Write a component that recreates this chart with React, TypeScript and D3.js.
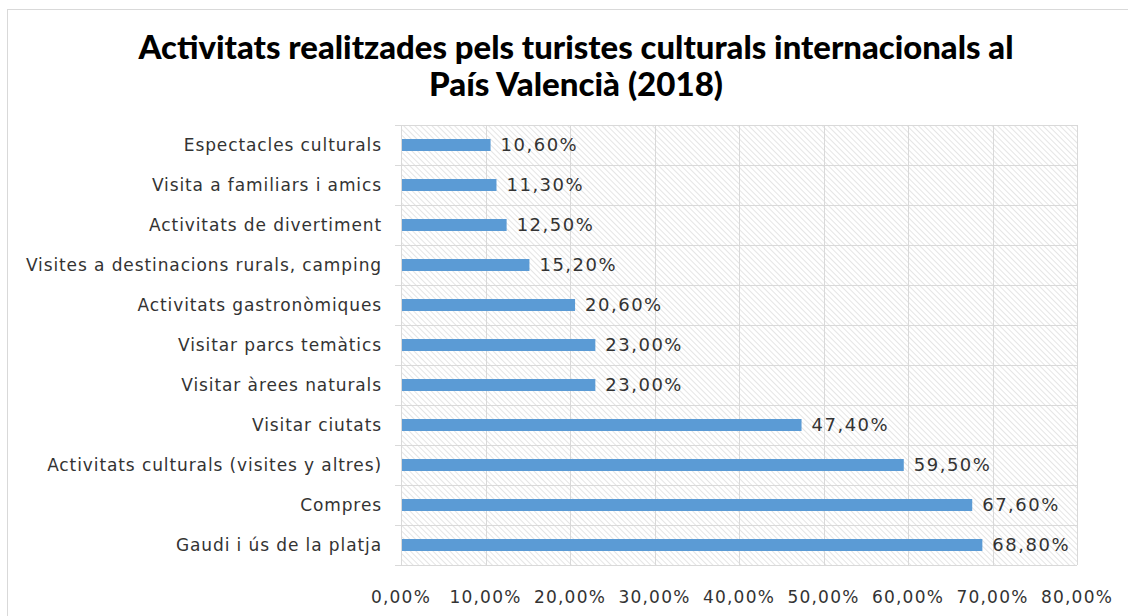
import * as d3 from "d3";
import { useEffect, useRef } from "react";

const categories = [
  "Espectacles culturals",
  "Visita a familiars i amics",
  "Activitats de divertiment",
  "Visites a destinacions rurals, camping",
  "Activitats gastronòmiques",
  "Visitar parcs temàtics",
  "Visitar àrees naturals",
  "Visitar ciutats",
  "Activitats culturals (visites y altres)",
  "Compres",
  "Gaudi i ús de la platja",
];
const values = [10.6, 11.3, 12.5, 15.2, 20.6, 23.0, 23.0, 47.4, 59.5, 67.6, 68.8];
const ticks = [0, 10, 20, 30, 40, 50, 60, 70, 80];
const titleLines = [
  "Activitats realitzades pels turistes culturals internacionals al",
  "País Valencià (2018)",
];

const W = 1128;
const H = 616;
const M = { top: 125, right: 51, bottom: 51, left: 401 };

const fmt = (v: number) => v.toFixed(2).replace(".", ",") + "%";

export default function App() {
  const ref = useRef<SVGSVGElement>(null);

  useEffect(() => {
    const svg = d3.select(ref.current);
    svg.selectAll("*").remove();

    const x = d3.scaleLinear().domain([0, 80]).range([M.left, W - M.right]);
    const y = d3
      .scaleBand()
      .domain(categories)
      .range([M.top, H - M.bottom])
      .paddingInner(0.7)
      .paddingOuter(0.35);

    const defs = svg.append("defs");
    const pat = defs
      .append("pattern")
      .attr("id", "hatch")
      .attr("patternUnits", "userSpaceOnUse")
      .attr("width", 4)
      .attr("height", 4)
      .attr("patternTransform", "rotate(-45)");
    pat.append("rect").attr("width", 4).attr("height", 4).attr("fill", "#fff");
    pat
      .append("line")
      .attr("x1", 0)
      .attr("y1", 0)
      .attr("x2", 0)
      .attr("y2", 4)
      .attr("stroke", "#dadada")
      .attr("stroke-width", 1.4);

    svg
      .append("rect")
      .attr("x", 7.5)
      .attr("y", 9.5)
      .attr("width", W + 10)
      .attr("height", H + 10)
      .attr("fill", "#fff")
      .attr("stroke", "#d9d9d9");

    // title
    const titleWidths = [875, 294];
    svg
      .append("g")
      .selectAll("text")
      .data(titleLines)
      .join("text")
      .attr("x", 576)
      .attr("y", (d, i) => 59 + i * 37)
      .attr("text-anchor", "middle")
      .attr("textLength", (d, i) => titleWidths[i])
      .attr("lengthAdjust", "spacingAndGlyphs")
      .style("font-family", "Lato, 'Open Sans', sans-serif")
      .style("font-weight", "900")
      .style("font-size", "32px")
      .attr("fill", "#000")
      .text((d) => d);

    const [x0, x1] = x.range();
    const [y0, y1] = y.range();

    svg
      .append("rect")
      .attr("x", x0)
      .attr("y", y0)
      .attr("width", x1 - x0)
      .attr("height", y1 - y0)
      .attr("fill", "url(#hatch)");

    // vertical gridlines
    svg
      .append("g")
      .selectAll("line")
      .data(ticks)
      .join("line")
      .attr("x1", (d) => Math.round(x(d)) + 0.5)
      .attr("x2", (d) => Math.round(x(d)) + 0.5)
      .attr("y1", y0)
      .attr("y2", y1)
      .attr("stroke", "#d9d9d9");

    // category separators
    const seps = d3.range(categories.length + 1).map((i) => y0 + (i * (y1 - y0)) / categories.length);
    svg
      .append("g")
      .selectAll("line")
      .data(seps)
      .join("line")
      .attr("x1", x0 - 6)
      .attr("x2", x1)
      .attr("y1", (d) => Math.round(d) + 0.5)
      .attr("y2", (d) => Math.round(d) + 0.5)
      .attr("stroke", "#d9d9d9");

    // bars
    svg
      .append("g")
      .selectAll("rect")
      .data(values)
      .join("rect")
      .attr("x", x(0) + 1)
      .attr("y", (d, i) => y(categories[i])!)
      .attr("width", (d) => x(d) - x(0) - 1)
      .attr("height", y.bandwidth())
      .attr("fill", "#5b9bd5");

    const font = "'DejaVu Sans', Verdana, sans-serif";

    // value labels
    svg
      .append("g")
      .selectAll("text")
      .data(values)
      .join("text")
      .attr("x", (d) => x(d) + 10)
      .attr("y", (d, i) => y(categories[i])! + y.bandwidth() / 2)
      .attr("dy", "0.36em")
      .style("font-family", font)
      .style("font-size", "18px")
      .style("letter-spacing", "1.5px")
      .attr("fill", "#333")
      .text((d) => fmt(d));

    // category labels
    svg
      .append("g")
      .selectAll("text")
      .data(categories)
      .join("text")
      .attr("x", x0 - 19)
      .attr("y", (d) => y(d)! + y.bandwidth() / 2)
      .attr("dy", "0.36em")
      .attr("text-anchor", "end")
      .style("font-family", font)
      .style("font-size", "17px")
      .style("letter-spacing", "0.9px")
      .attr("fill", "#333")
      .text((d) => d);

    // x tick labels
    svg
      .append("g")
      .selectAll("text")
      .data(ticks)
      .join("text")
      .attr("x", (d) => x(d))
      .attr("y", 597)
      .attr("dy", "0.36em")
      .attr("text-anchor", "middle")
      .style("font-family", font)
      .style("font-size", "17px")
      .style("letter-spacing", "1.2px")
      .attr("fill", "#333")
      .text((d) => fmt(d));
  }, []);

  return (
    <svg
      ref={ref}
      width={W}
      height={H}
      style={{ position: "absolute", left: 0, top: 0, display: "block" }}
    />
  );
}
